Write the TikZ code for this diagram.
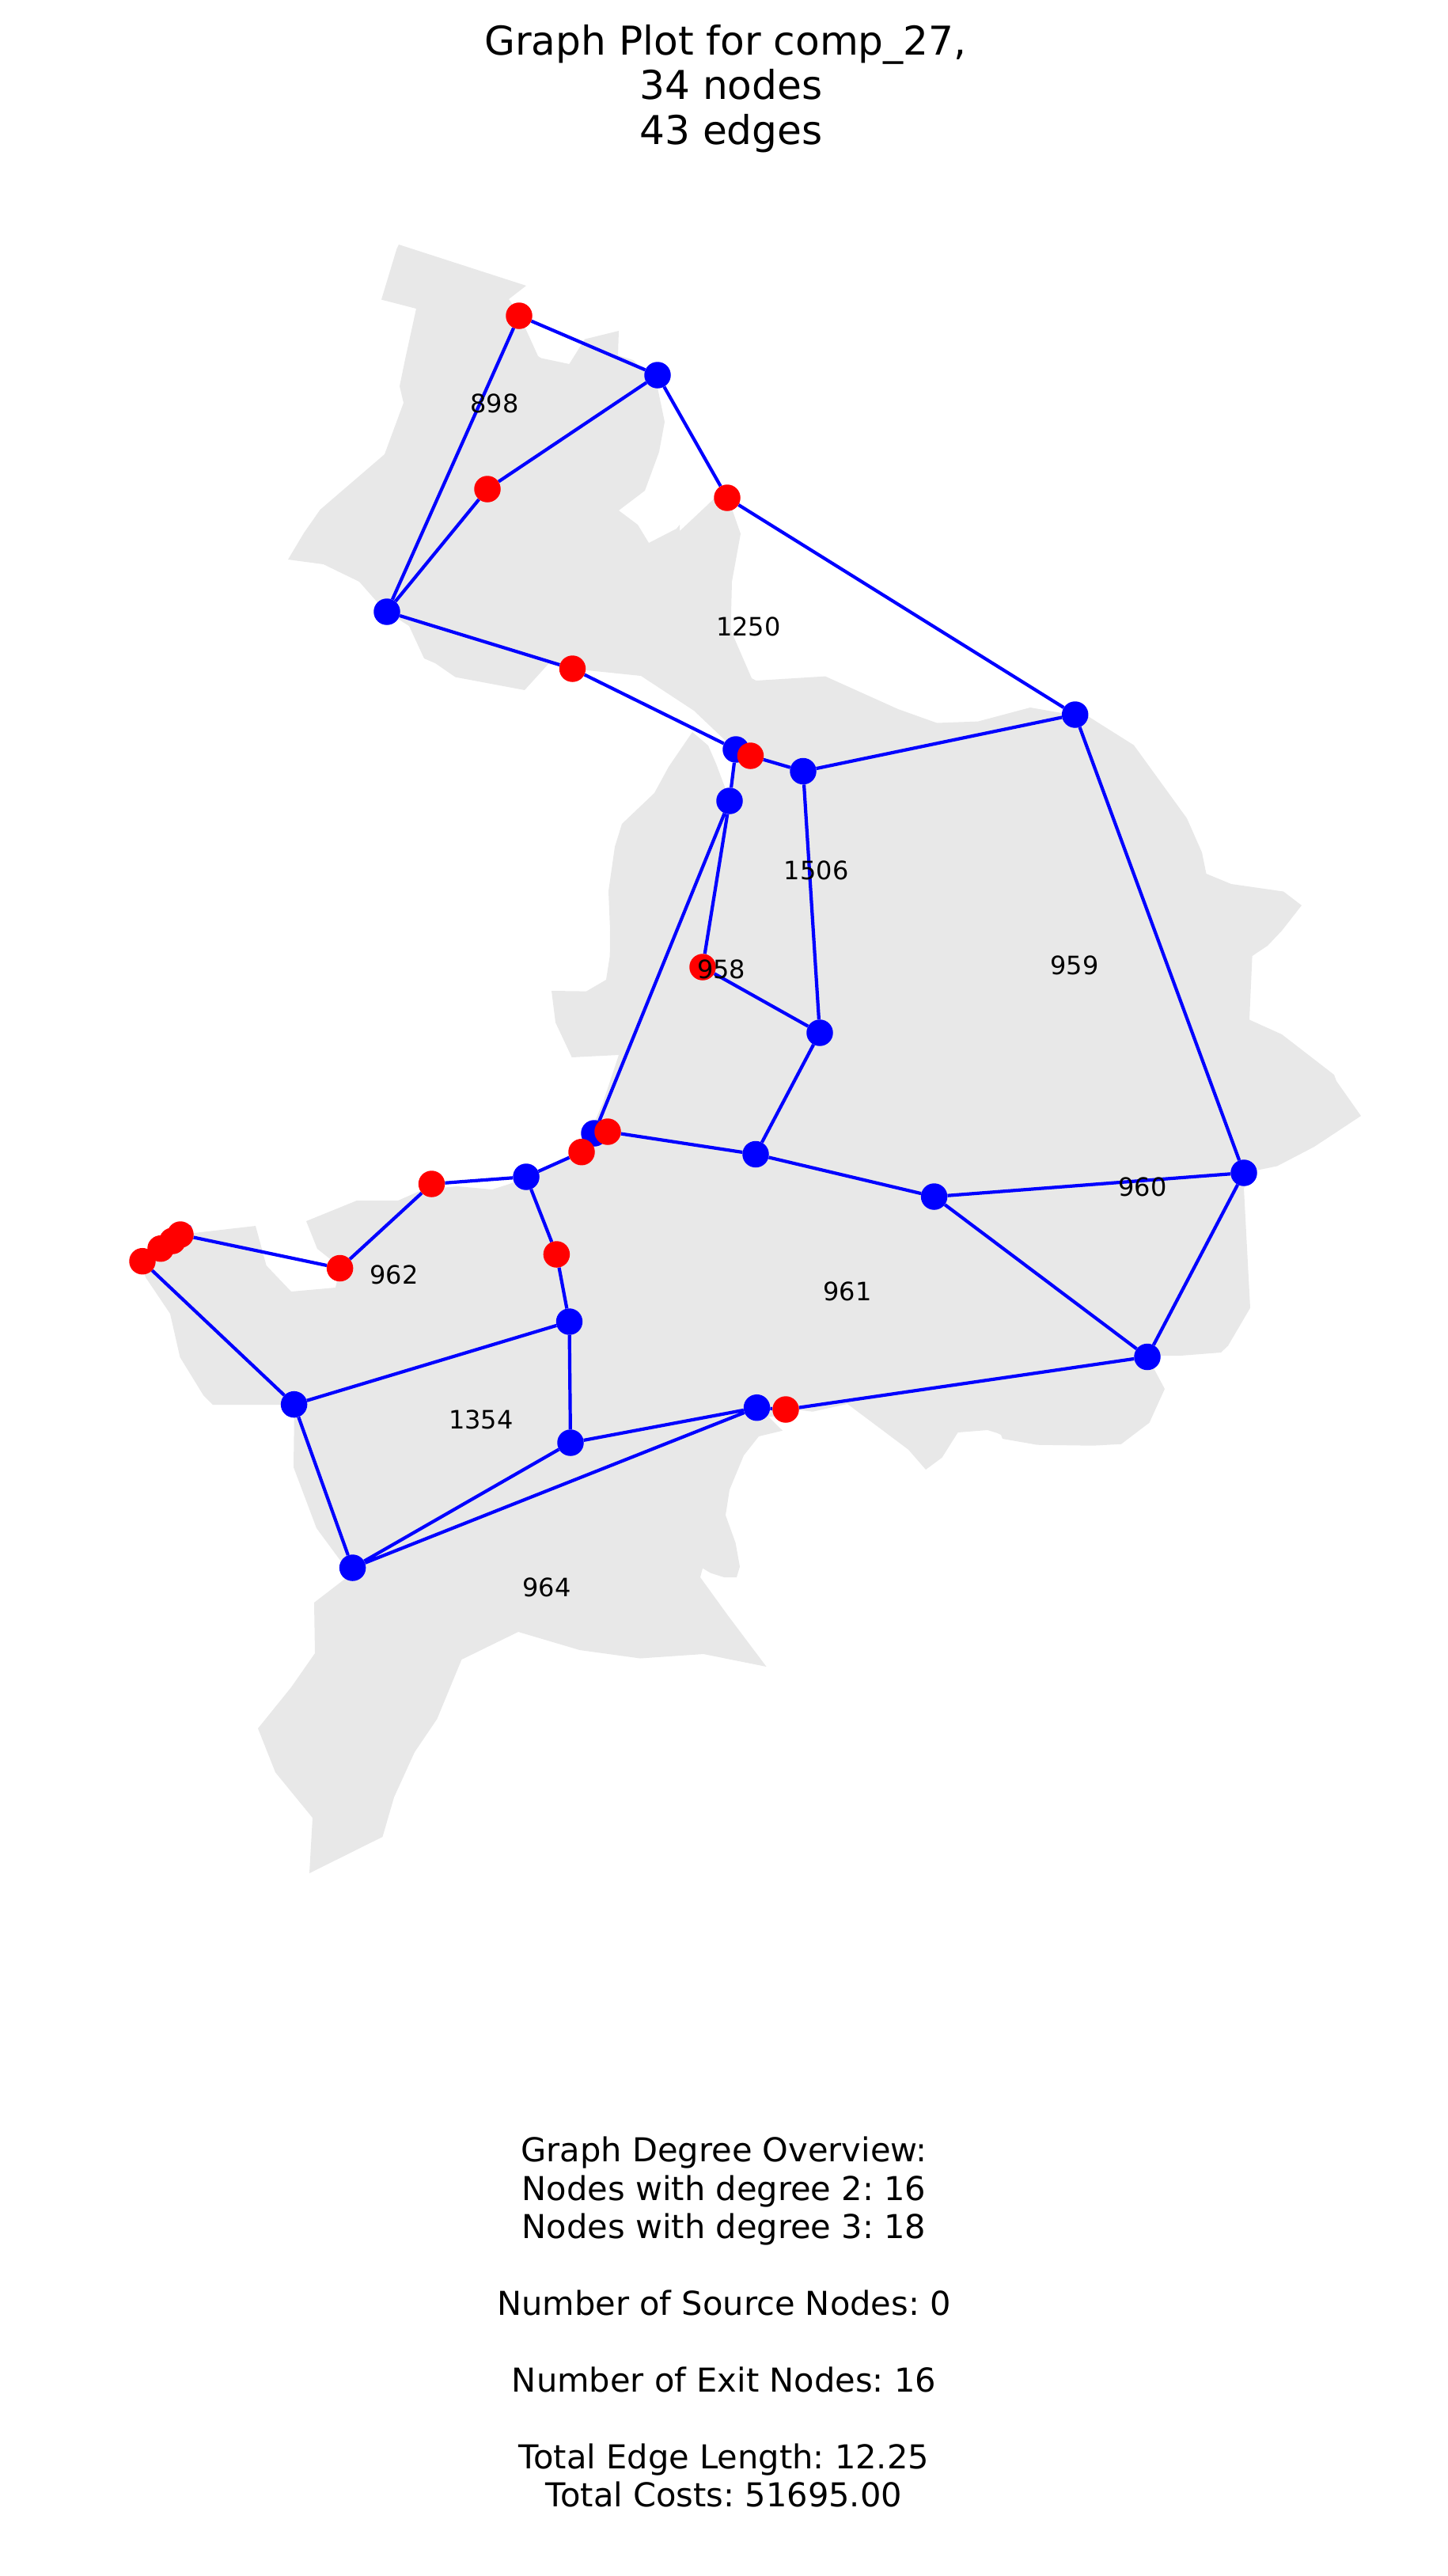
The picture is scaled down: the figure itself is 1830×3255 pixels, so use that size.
\documentclass[tikz,border=0pt]{standalone}
\usepackage{fontspec}
\setmainfont{DejaVu Sans}
\frenchspacing
\pgfdeclarelayer{regions}
\pgfdeclarelayer{edges}
\pgfsetlayers{regions,edges,main}
\definecolor{regiongray}{HTML}{E8E8E8}
\tikzset{
  bluenode/.style={circle,fill=blue,draw=none,minimum size=33.5pt,inner sep=0pt},
  rednode/.style={circle,fill=red,draw=none,minimum size=33.5pt,inner sep=0pt},
  edgeline/.style={draw=blue,line width=4.2pt},
  regionlabel/.style={inner sep=0pt,font=\fontsize{32}{36}\selectfont},
  titletext/.style={align=center,inner sep=0pt,anchor=north,font=\fontsize{50.2}{56.5}\selectfont},
  infotext/.style={align=center,inner sep=0pt,anchor=north,font=\fontsize{41.6}{48.4}\selectfont}
}
\begin{document}
\begin{tikzpicture}[x=1pt,y=-1pt]
\useasboundingbox (0,0) rectangle (1830,3255);
\begin{pgfonlayer}{regions}
\fill[regiongray] (504,309)--(665,361)--(643,378)--(655,395)--(680,450)--(684,452.5)--(719.4,460)--(739,428.6)--(782,418)--(781,449)--(800,455)--(830,485)--(840,533)--(833,571)--(815,620)--(782,645)--(806,663)--(820,686)--(855,668)--(859,663)--(859,671)--(892,640)--(905,627.5)--(925,643)--(936,674.5)--(925,735)--(923.5,796)--(950,857)--(955.6,860)--(1043,854.6)--(1135,896)--(1184,913.5)--(1236,911.6)--(1302,894)--(1342,901)--(1375,905)--(1433,941.6)--(1500,1034)--(1519,1077)--(1524.5,1104)--(1556,1117)--(1622,1126.5)--(1645,1144)--(1620,1176)--(1602,1195)--(1582.6,1208)--(1579,1288.5)--(1620,1307)--(1686,1358)--(1689,1366)--(1720,1410)--(1661,1449)--(1614,1473.5)--(1587,1479)--(1572,1501.5)--(1580,1652.7)--(1552,1700.5)--(1543,1709)--(1492,1713)--(1462,1713)--(1458.6,1730)--(1472,1755)--(1452.6,1797.7)--(1417,1824.7)--(1381,1826.7)--(1311,1825.7)--(1267,1818)--(1265,1813)--(1260,1810.7)--(1248,1807)--(1210.6,1810)--(1190.6,1841.7)--(1170,1857)--(1148,1831.7)--(1071,1774)--(1027,1783.7)--(1011,1781.7)--(990,1790)--(971,1790)--(989,1807.7)--(959,1815)--(940,1839)--(922,1882.5)--(917,1914.6)--(929.6,1949.5)--(935,1979.6)--(931,1993)--(915,1993)--(898,1987.6)--(888,1981.6)--(885,1993)--(919,2040)--(968.6,2106)--(889,2090)--(809,2095.5)--(732.7,2085)--(655,2062)--(583.4,2097)--(552.4,2172)--(524,2214)--(498,2271)--(483.5,2321)--(391,2367)--(395,2297)--(348,2239.5)--(326,2184)--(368,2132)--(398,2089)--(397,2025)--(436,1995)--(431,1973)--(400,1931)--(371,1854)--(372,1775)--(269,1775)--(257,1763)--(227.5,1715)--(215,1660)--(184.4,1614.6)--(178,1600)--(245,1558)--(323,1549)--(336.6,1599)--(368,1632)--(424,1627)--(430,1601)--(401,1578)--(387,1543)--(451,1517)--(503,1517)--(535,1503)--(578,1499)--(622,1503)--(644,1496)--(665,1487)--(735,1456)--(762,1393)--(782,1333)--(722.7,1336)--(702,1292)--(697,1252)--(741,1252.6)--(766,1238)--(770.7,1208)--(771,1175)--(769,1126)--(777,1070)--(786,1041)--(827,1002)--(845,969)--(875,925)--(895,942)--(905,965)--(917,997)--(925,1000)--(930,945)--(917,936)--(877,898)--(810,854)--(723,845)--(693,839)--(663,872)--(575.5,855.6)--(550,838)--(536,832)--(517,791)--(489,773)--(476,760)--(454,735)--(408.7,713)--(364,707)--(384,673.5)--(404.6,644)--(486,574)--(510,509)--(505,488)--(512,454)--(526,390)--(482,378.6)--(501.5,314)--cycle;
\end{pgfonlayer}
% blue nodes
\node[bluenode] (b1) at (831,474) {};
\node[bluenode] (b2) at (489,773) {};
\node[bluenode] (b3) at (930,947) {};
\node[bluenode] (b4) at (1015,974.5) {};
\node[bluenode] (b5) at (922,1012) {};
\node[bluenode] (b6) at (1358.7,903) {};
\node[bluenode] (b7) at (1036,1305) {};
\node[bluenode] (b8) at (1180.6,1512) {};
\node[bluenode] (b9) at (1572,1482) {};
\node[bluenode] (b10) at (1450,1714.5) {};
\node[bluenode] (b11) at (751,1432) {};
\node[bluenode] (b12) at (665,1487) {};
\node[bluenode] (b13) at (955,1458.5) {};
\node[bluenode] (b14) at (719.5,1670) {};
\node[bluenode] (b15) at (371.6,1774.6) {};
\node[bluenode] (b16) at (721,1823) {};
\node[bluenode] (b17) at (956.5,1778.7) {};
\node[bluenode] (b18) at (445.6,1981) {};
% red nodes
\node[rednode] (r1) at (656,399) {};
\node[rednode] (r2) at (616,618) {};
\node[rednode] (r3) at (919,629) {};
\node[rednode] (r4) at (723.5,845) {};
\node[rednode] (r5) at (948.5,955) {};
\node[rednode] (r6) at (888,1222) {};
\node[rednode] (r7) at (768,1430) {};
\node[rednode] (r8) at (735,1455.7) {};
\node[rednode] (r9) at (545.5,1496) {};
\node[rednode] (r10) at (703.4,1585) {};
\node[rednode] (r11) at (429.6,1602.5) {};
\node[rednode] (r13) at (203,1577.7) {};
\node[rednode] (r14) at (218,1568) {};
\node[rednode] (r15) at (228,1560) {};
\node[rednode] (r12) at (180,1593.7) {};
\node[rednode] (r16) at (993,1781) {};
\begin{pgfonlayer}{edges}
\draw[edgeline] (r1)--(b1) (r1)--(b2) (b1)--(r2) (r2)--(b2) (b1)--(r3) (r3)--(b6)
 (b2)--(r4) (r4)--(b3) (b3)--(r5) (r5)--(b4) (b3)--(b5) (b4)--(b6) (b4)--(b7)
 (b5)--(r6) (b5)--(b11) (r6)--(b7) (b7)--(b13) (b13)--(r7) (r7)--(b11) (b11)--(r8)
 (r8)--(b12) (b12)--(r9) (r9)--(r11) (r11)--(r15) (r15)--(r14) (r14)--(r13) (r13)--(r12)
 (r12)--(b15) (b12)--(r10) (r10)--(b14) (b14)--(b15) (b14)--(b16) (b15)--(b18)
 (b16)--(b18) (b16)--(b17) (b17)--(b18) (b17)--(r16) (r16)--(b10) (b10)--(b9)
 (b10)--(b8) (b8)--(b9) (b8)--(b13) (b9)--(b6);
\end{pgfonlayer}
% region labels
\node[regionlabel] (l1) at (625,510) {898};
\node[regionlabel] (l2) at (946,792) {1250};
\node[regionlabel] (l3) at (1031.7,1100) {1506};
\node[regionlabel] (l4) at (911.7,1225) {958};
\node[regionlabel] (l5) at (1358,1219.6) {959};
\node[regionlabel] (l6) at (1444,1500) {960};
\node[regionlabel] (l7) at (1071,1632) {961};
\node[regionlabel] (l8) at (498,1611) {962};
\node[regionlabel] (l9) at (608,1794) {1354};
\node[regionlabel] (l10) at (691,2006) {964};
% texts
\node[titletext] (title) at (924,31) {Graph Plot for comp\_27,\hspace*{14pt}\\34 nodes\\43 edges};
\node[infotext] (info) at (915,2700) {Graph Degree Overview:\\Nodes with degree 2: 16\\Nodes with degree 3: 18\\[48.4pt]Number of Source Nodes: 0\\[48.4pt]Number of Exit Nodes: 16\\[48.4pt]Total Edge Length: 12.25\\Total Costs: 51695.00};
\end{tikzpicture}
\end{document}
